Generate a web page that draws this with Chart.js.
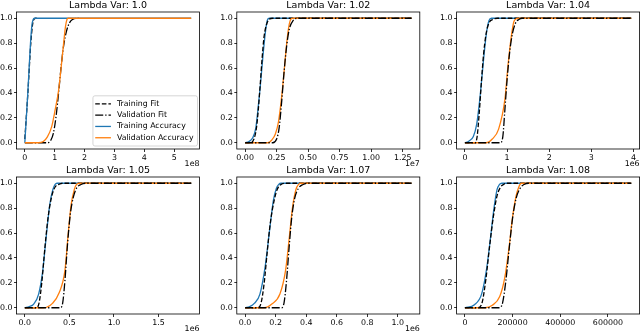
<!DOCTYPE html>
<html>
<head>
<meta charset="utf-8">
<script src="https://cdn.jsdelivr.net/npm/chart.js@4.4.0/dist/chart.umd.min.js"></script>
<style>
    html, body { margin: 0; padding: 0; background: #fff; }
    #fig { position: relative; width: 640px; height: 335px; overflow: hidden; }
    #fig canvas { position: absolute; }
</style>
</head>
<body>
<div id="fig"></div>
<script>
// ---- dados (x, y) ----
const titulos = ['Lambda Var: 1.0', 'Lambda Var: 1.02', 'Lambda Var: 1.04',
                 'Lambda Var: 1.05', 'Lambda Var: 1.07', 'Lambda Var: 1.08'];
const offsets = ['1e8', '1e7', '1e6', '1e6', '1e6', ''];
const rotulos = ['Training Fit', 'Validation Fit', 'Training Accuracy', 'Validation Accuracy'];

const yTicks = [0, 0.2, 0.4, 0.6, 0.8, 1.0];
const yLabels = ['0.0', '0.2', '0.4', '0.6', '0.8', '1.0'];

const xTicks1 = [0, 1, 2, 3, 4, 5];
const xLabels1 = ['0', '1', '2', '3', '4', '5'];
const xTicks2 = [0, 0.25, 0.5, 0.75, 1.0, 1.25];
const xLabels2 = ['0.00', '0.25', '0.50', '0.75', '1.00', '1.25'];
const xTicks3 = [0, 1, 2, 3, 4];
const xLabels3 = ['0', '1', '2', '3', '4'];
const xTicks4 = [0, 0.5, 1.0, 1.5];
const xLabels4 = ['0.0', '0.5', '1.0', '1.5'];
const xTicks5 = [0, 0.2, 0.4, 0.6, 0.8, 1.0];
const xLabels5 = ['0.0', '0.2', '0.4', '0.6', '0.8', '1.0'];
const xTicks6 = [0, 200000, 400000, 600000];
const xLabels6 = ['0', '200000', '400000', '600000'];

// Lambda 1.0 (x em 1e8) - os ajustes param cedo neste painel
const trainFit1 = [[0,0.03],[0.1,0.39],[0.2,0.8],[0.26,0.95],[0.3,0.99],[0.36,1.0],[0.4,1.0]];
const valFit1 = [[0,0],[0.75,0],[0.87,0.02],[0.96,0.08],[1.05,0.22],[1.13,0.4],[1.22,0.62],[1.3,0.78],[1.4,0.9],[1.5,0.965],[1.6,0.99],[1.75,1.0],[1.8,1.0]];
const trainAcc1 = [[0,0],[0.1,0.4],[0.19,0.8],[0.24,0.95],[0.28,0.99],[0.32,1.0],[5.57,1.0]];
const valAcc1 = [[0,0],[0.45,0],[0.62,0.01],[0.75,0.045],[0.9,0.13],[1.02,0.27],[1.13,0.42],[1.24,0.66],[1.3,0.8],[1.36,0.93],[1.41,0.99],[1.45,1.0],[5.57,1.0]];

// Lambda 1.02 (x em 1e7)
const trainFit2 = [[0,0],[0.04,0],[0.07,0.03],[0.09,0.12],[0.105,0.27],[0.12,0.47],[0.135,0.68],[0.15,0.85],[0.17,0.95],[0.19,0.99],[0.22,1.0],[1.32,1.0]];
const valFit2 = [[0,0],[0.22,0],[0.25,0.03],[0.27,0.12],[0.29,0.33],[0.31,0.58],[0.33,0.78],[0.35,0.91],[0.38,0.98],[0.42,1.0],[1.32,1.0]];
const trainAcc2 = [[0,0],[0.03,0.01],[0.06,0.04],[0.085,0.12],[0.1,0.25],[0.12,0.45],[0.14,0.68],[0.16,0.88],[0.175,0.98],[0.19,1.0],[1.32,1.0]];
const valAcc2 = [[0,0],[0.18,0],[0.21,0.02],[0.24,0.07],[0.265,0.17],[0.29,0.37],[0.31,0.58],[0.33,0.8],[0.35,0.95],[0.365,0.995],[0.38,1.0],[1.32,1.0]];

// Lambda 1.04 (x em 1e6)
const trainFit3 = [[0,0],[0.24,0],[0.29,0.05],[0.34,0.24],[0.39,0.48],[0.44,0.7],[0.5,0.87],[0.57,0.96],[0.66,0.99],[0.77,1.0],[3.95,1.0]];
const valFit3 = [[0,0],[0.84,0],[0.9,0.05],[0.95,0.27],[1.0,0.5],[1.06,0.72],[1.13,0.88],[1.2,0.96],[1.28,0.99],[1.36,1.0],[3.95,1.0]];
const trainAcc3 = [[0,0],[0.1,0.015],[0.2,0.05],[0.28,0.15],[0.35,0.34],[0.41,0.55],[0.47,0.76],[0.52,0.9],[0.57,0.98],[0.63,1.0],[3.95,1.0]];
const valAcc3 = [[0,0],[0.5,0],[0.65,0.03],[0.8,0.11],[0.95,0.35],[1.02,0.61],[1.1,0.85],[1.16,0.97],[1.22,0.995],[1.25,1.0],[3.95,1.0]];

// Lambda 1.05 (x em 1e6)
const trainFit4 = [[0,0],[0.13,0],[0.16,0.04],[0.19,0.2],[0.225,0.48],[0.26,0.72],[0.3,0.89],[0.34,0.97],[0.38,0.99],[0.43,1.0],[1.866,1.0]];
const valFit4 = [[0,0],[0.4,0],[0.425,0.04],[0.45,0.22],[0.48,0.52],[0.51,0.75],[0.545,0.89],[0.58,0.96],[0.63,0.99],[0.69,1.0],[1.866,1.0]];
const trainAcc4 = [[0,0],[0.05,0.01],[0.1,0.03],[0.155,0.11],[0.2,0.29],[0.24,0.57],[0.28,0.83],[0.315,0.95],[0.34,0.99],[0.36,1.0],[1.866,1.0]];
const valAcc4 = [[0,0],[0.21,0],[0.31,0.035],[0.385,0.12],[0.45,0.3],[0.485,0.58],[0.52,0.83],[0.555,0.95],[0.58,0.99],[0.61,1.0],[1.866,1.0]];

// Lambda 1.07 (x em 1e6)
const trainFit5 = [[0,0],[0.085,0],[0.105,0.04],[0.125,0.2],[0.145,0.45],[0.165,0.68],[0.19,0.86],[0.21,0.95],[0.235,0.99],[0.26,1.0],[1.09,1.0]];
const valFit5 = [[0,0],[0.24,0],[0.255,0.04],[0.27,0.2],[0.288,0.48],[0.305,0.72],[0.325,0.88],[0.35,0.96],[0.38,0.99],[0.41,1.0],[1.09,1.0]];
const trainAcc5 = [[0,0],[0.03,0.01],[0.06,0.035],[0.097,0.11],[0.13,0.32],[0.16,0.62],[0.185,0.86],[0.205,0.96],[0.22,0.99],[0.235,1.0],[1.09,1.0]];
const valAcc5 = [[0,0],[0.125,0],[0.175,0.03],[0.228,0.11],[0.265,0.3],[0.29,0.57],[0.31,0.8],[0.333,0.95],[0.35,0.99],[0.362,1.0],[1.09,1.0]];

// Lambda 1.08
const trainFit6 = [[0,0],[55000,0],[72000,0.04],[88000,0.23],[104000,0.5],[120000,0.74],[135000,0.9],[150000,0.97],[162000,0.99],[172000,1.0],[698000,1.0]];
const valFit6 = [[0,0],[145000,0],[158000,0.04],[172000,0.22],[186000,0.48],[200000,0.72],[215000,0.88],[232000,0.96],[248000,0.99],[268000,1.0],[698000,1.0]];
const trainAcc6 = [[0,0],[40000,0.025],[70000,0.11],[90000,0.3],[106000,0.54],[122000,0.8],[135000,0.95],[145000,0.99],[155000,1.0],[698000,1.0]];
const valAcc6 = [[0,0],[84000,0],[115000,0.02],[146000,0.09],[167000,0.24],[185000,0.48],[200000,0.73],[215000,0.9],[226000,0.97],[237000,1.0],[698000,1.0]];

// ---- layout (pixels) ----
const COL_LEFT = [16.5, 236.8, 456.6];
const ROW_TOP = [12, 177];
const AX_W = 183, AX_H = 137;
const Y_LABEL_W = 16, TITLE_H = 12, X_LABEL_H = 20;
const FONTE = "'DejaVu Sans', sans-serif";

const paineis = [
    { xt: xTicks1, xl: xLabels1, series: [trainFit1, valFit1, trainAcc1, valAcc1] },
    { xt: xTicks2, xl: xLabels2, series: [trainFit2, valFit2, trainAcc2, valAcc2] },
    { xt: xTicks3, xl: xLabels3, series: [trainFit3, valFit3, trainAcc3, valAcc3] },
    { xt: xTicks4, xl: xLabels4, series: [trainFit4, valFit4, trainAcc4, valAcc4] },
    { xt: xTicks5, xl: xLabels5, series: [trainFit5, valFit5, trainAcc5, valAcc5] },
    { xt: xTicks6, xl: xLabels6, series: [trainFit6, valFit6, trainAcc6, valAcc6] }
];

const estilos = [
    { borderColor: '#000000', borderDash: [4.6, 2] },
    { borderColor: '#000000', borderDash: [8, 2, 1.3, 2] },
    { borderColor: '#1f77b4', borderDash: [] },
    { borderColor: '#ff7f0e', borderDash: [] }
];
// ordem de desenho (menor = por cima)
const ordemPainel1 = [3, 2, 1, 0];
const ordemOutros = [2, 0, 3, 1];

// moldura (4 lados) como no matplotlib
const molduraPlugin = {
    id: 'moldura',
    afterDraw(chart) {
        const { ctx, chartArea: a } = chart;
        ctx.save();
        ctx.strokeStyle = '#000';
        ctx.lineWidth = 0.8;
        ctx.strokeRect(a.left, a.top, a.right - a.left, a.bottom - a.top);
        ctx.restore();
    }
};

// legenda dentro da área, canto inferior direito
const legendaPlugin = {
    id: 'legendaInterna',
    afterDatasetsDraw(chart) {
        const { ctx, chartArea: a } = chart;
        const fs = 7.8, rowH = 11.3;
        const ds = chart.data.datasets;
        ctx.save();
        ctx.font = fs + 'px ' + FONTE;
        const textW = Math.max(...ds.map(d => ctx.measureText(d.label).width));
        const w = 2.3 + 15.7 + 6 + textW + 4;
        const h = ds.length * rowH + 5;
        const x = a.right - 2 - w;
        const y = a.bottom - 3 - h;
        ctx.fillStyle = 'rgba(255,255,255,0.8)';
        ctx.strokeStyle = '#cccccc';
        ctx.lineWidth = 0.8;
        ctx.beginPath();
        if (ctx.roundRect) ctx.roundRect(x, y, w, h, 2); else ctx.rect(x, y, w, h);
        ctx.fill();
        ctx.stroke();
        ds.forEach((d, k) => {
            const cy = y + 2.4 + rowH * (k + 0.5);
            ctx.strokeStyle = d.borderColor;
            ctx.lineWidth = d.borderWidth;
            ctx.setLineDash(d.borderDash);
            ctx.beginPath();
            ctx.moveTo(x + 2.3, cy);
            ctx.lineTo(x + 18, cy);
            ctx.stroke();
            ctx.setLineDash([]);
            ctx.fillStyle = '#000';
            ctx.textBaseline = 'middle';
            ctx.fillText(d.label, x + 24, cy);
        });
        ctx.restore();
    }
};

function criarPainel(i) {
    const p = paineis[i];
    const col = i % 3, row = Math.floor(i / 3);
    const axLeft = COL_LEFT[col], axTop = ROW_TOP[row];
    const cvLeft = Math.floor(axLeft - Y_LABEL_W);
    const cvTop = axTop - TITLE_H;
    const yW = axLeft - cvLeft;
    const cvW = Math.min(640 - cvLeft, Math.ceil(yW + AX_W + 2));
    const cvH = TITLE_H + AX_H + X_LABEL_H;

    const canvas = document.createElement('canvas');
    canvas.width = cvW;
    canvas.height = cvH;
    canvas.style.left = cvLeft + 'px';
    canvas.style.top = cvTop + 'px';
    canvas.style.width = cvW + 'px';
    canvas.style.height = cvH + 'px';
    document.getElementById('fig').appendChild(canvas);

    // limite do eixo x com a margem de 5% do matplotlib
    const xMax = Math.max(...p.series.map(s => s[s.length - 1][0]));
    const ordem = i === 0 ? ordemPainel1 : ordemOutros;

    const datasets = p.series.map((s, k) => ({
        label: rotulos[k],
        data: s.map(pt => ({ x: pt[0], y: pt[1] })),
        borderColor: estilos[k].borderColor,
        borderDash: estilos[k].borderDash,
        borderWidth: 1.3,
        order: ordem[k],
        showLine: true,
        pointRadius: 0,
        fill: false,
        cubicInterpolationMode: 'monotone'
    }));

    const fonteTick = { family: FONTE, size: 7.9 };

    new Chart(canvas, {
        type: 'scatter',
        data: { datasets: datasets },
        options: {
            responsive: false,
            animation: false,
            devicePixelRatio: 1,
            events: [],
            layout: { padding: { left: 0, top: 0, right: cvW - yW - AX_W, bottom: 0 } },
            plugins: {
                legend: { display: false },
                tooltip: { enabled: false },
                title: {
                    display: true,
                    text: titulos[i],
                    fullSize: false,
                    color: '#000',
                    font: { family: FONTE, size: 9.5, weight: 'normal', lineHeight: 1.2 },
                    padding: { top: 0, bottom: TITLE_H - 9.5 * 1.2 }
                }
            },
            scales: {
                x: {
                    type: 'linear',
                    min: -0.05 * xMax,
                    max: 1.05 * xMax,
                    afterBuildTicks: s => { s.ticks = p.xt.map(v => ({ value: v })); },
                    afterFit: s => { s.height = X_LABEL_H; },
                    ticks: {
                        color: '#000',
                        font: fonteTick,
                        padding: 1,
                        maxRotation: 0,
                        autoSkip: false,
                        callback: (v, idx) => p.xl[idx]
                    },
                    grid: { drawOnChartArea: false, drawTicks: true, tickLength: 3, tickColor: '#000', lineWidth: 0.8 },
                    border: { display: false },
                    title: {
                        display: offsets[i] !== '',
                        text: offsets[i],
                        align: 'end',
                        color: '#000',
                        font: fonteTick,
                        padding: { top: 0, bottom: 0 }
                    }
                },
                y: {
                    type: 'linear',
                    min: -0.05,
                    max: 1.05,
                    afterBuildTicks: s => { s.ticks = yTicks.map(v => ({ value: v })); },
                    afterFit: s => { s.width = yW; },
                    ticks: {
                        color: '#000',
                        font: fonteTick,
                        padding: 1.5,
                        callback: (v, idx) => yLabels[idx]
                    },
                    grid: { drawOnChartArea: false, drawTicks: true, tickLength: 2.5, tickColor: '#000', lineWidth: 0.8 },
                    border: { display: false }
                }
            }
        },
        plugins: i === 0 ? [molduraPlugin, legendaPlugin] : [molduraPlugin]
    });
}

for (let i = 0; i < paineis.length; i++) {
    criarPainel(i);
}
</script>
</body>
</html>
